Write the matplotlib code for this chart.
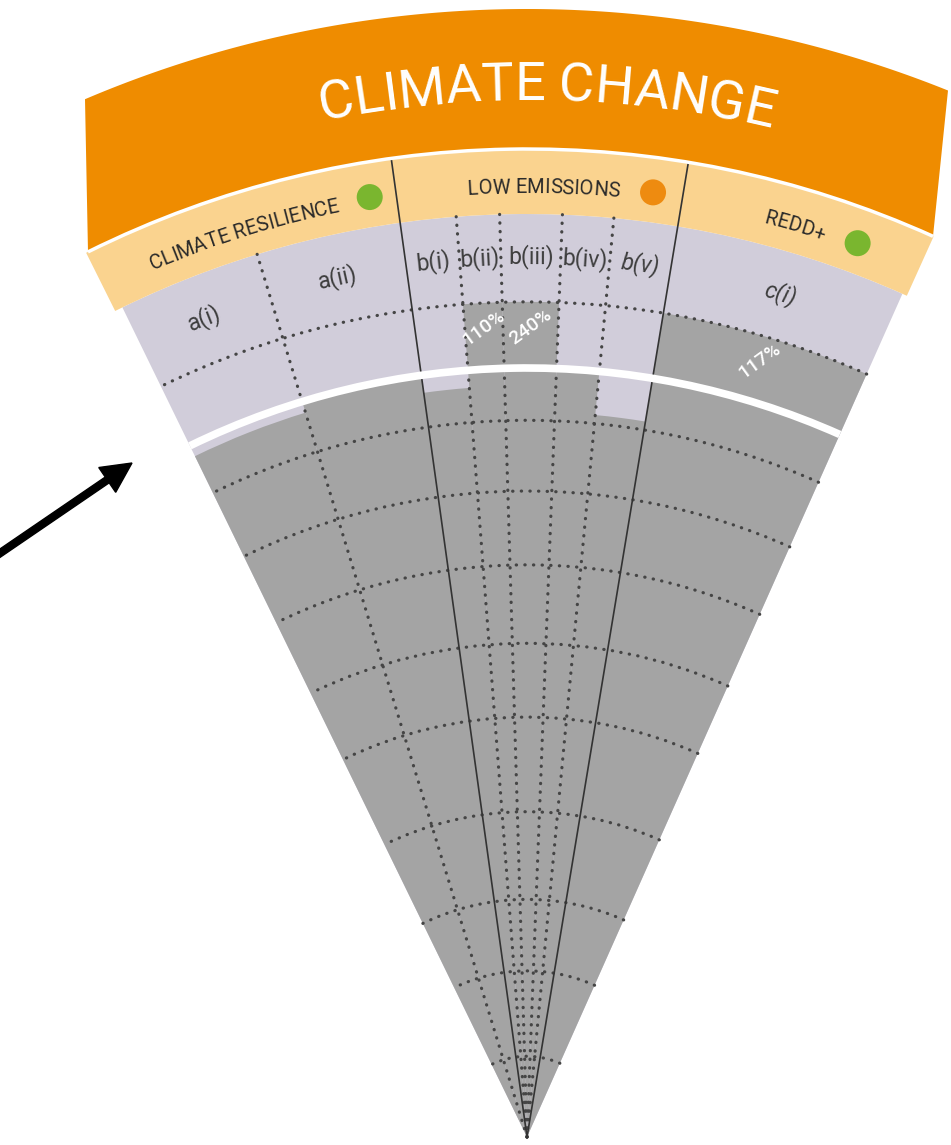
import numpy as np
import matplotlib
matplotlib.use("Agg")
import matplotlib.pyplot as plt
from matplotlib.patches import Wedge, Arc, Circle, Polygon
from matplotlib.font_manager import FontProperties
from matplotlib.textpath import TextToPath

# indicators of the climate change wedge
indicators = ['a(i)', 'a(ii)', 'b(i)', 'b(ii)', 'b(iii)', 'b(iv)', 'b(v)', 'c(i)']
# how far each indicator reaches, 1.0 = the boundary (white line)
reach = [0.985, 1.0, 0.977, 1.086, 1.086, 1.0, 0.943, 1.086]
overshoot_txt = ['', '', '', '110%', '240%', '', '', '117%']
italic = [False, False, False, False, False, False, True, True]

groups = ['CLIMATE RESILIENCE', 'LOW EMISSIONS', 'REDD+']
group_dot = ['#7ab62f', '#ee8b10', '#7ab62f']

# column borders in degrees (clockwise from straight up)
col_edges = [-26.0, -17.0, -7.9, -4.4, -1.7, 2.2, 5.4, 9.4, 24.0]
group_cols = [(0, 2), (2, 7), (7, 8)]
rings = [0.105, 0.216, 0.309, 0.423, 0.546, 0.642, 0.744, 0.840, 0.932, 1.086]

# geometry (pixels)
CX, CY = 527, 8          # tip of the wedge
R1 = 769                 # boundary radius
R_HEAD = 923
R_BAND = 988
R_TOP = 1128

ORANGE = '#ef8c00'
HEAD = '#fad38f'
LILAC = '#d1cdda'
GRAY = '#a4a4a4'
DOT = '#454545'

fig = plt.figure(figsize=(9.51, 11.45), dpi=100)
ax = fig.add_axes([0, 0, 1, 1])
ax.set_xlim(0, 951)
ax.set_ylim(0, 1145)
ax.set_aspect('equal')
ax.axis('off')


def pxy(r, th):
    t = np.radians(th)
    return CX + r * np.sin(t), CY + r * np.cos(t)


def sector(r0, r1, t0, t1, color, z):
    # Wedge takes counter clockwise angles from +x
    ax.add_patch(Wedge((CX, CY), r1, 90 - t1, 90 - t0, width=r1 - r0,
                       facecolor=color, edgecolor='none', zorder=z))


t2p = TextToPath()


def tw(s, fp):
    return t2p.get_text_width_height_descent(s, fp, ismath=False)[0] * 100 / 72


def arc_text(s, r, thc, size, color, weight='normal'):
    fp = FontProperties(family='Roboto', size=size, weight=weight)
    total = tw(s, fp)
    for i, ch in enumerate(s):
        if ch == ' ':
            continue
        pos = tw(s[:i + 1], fp) - tw(ch, fp) / 2
        th = thc + np.degrees((pos - total / 2) / r)
        x, y = pxy(r, th)
        ax.text(x, y, ch, fontproperties=fp, color=color, rotation=-th,
                ha='center', va='baseline', rotation_mode='anchor', zorder=9)


left, right = col_edges[0], col_edges[-1]

# background of the wedge and header band
sector(0, R_HEAD, left, right, LILAC, 1)
sector(R_HEAD, R_BAND, left - 0.5, right + 0.3, HEAD, 1)

# indicator bars
for i, v in enumerate(reach):
    sector(0, v * R1, col_edges[i], col_edges[i + 1], GRAY, 2)

# dotted rings
for rr in rings:
    ax.add_patch(Arc((CX, CY), 2 * rr * R1, 2 * rr * R1, theta1=90 - right, theta2=90 - left,
                     color=DOT, lw=2.3, linestyle=(0, (0.1, 2.6)), capstyle='round', zorder=3))

# dotted and solid dividers
solid = [col_edges[a] for a, b in group_cols[1:]]
for e in col_edges[1:-1]:
    if e in solid:
        xs, ys = pxy(np.array([0, R_BAND]), e)
        ax.plot(xs, ys, color='#333333', lw=1.2, zorder=4)
    else:
        xs, ys = pxy(np.array([0, R_HEAD]), e)
        ax.plot(xs, ys, color=DOT, lw=2.3, linestyle=(0, (0.1, 2.6)),
                dash_capstyle='round', zorder=3)

# white boundary line
ax.add_patch(Arc((CX, CY), 2 * R1, 2 * R1, theta1=90 - right, theta2=90 - left,
                 color='white', lw=5.5, zorder=5))

# orange title band with straight sides
xl, xr = 85, 948
xl_in, xr_in = 88, 933
to = np.linspace(np.arcsin((xl - CX) / R_TOP), np.arcsin((xr - CX) / R_TOP), 120)
ti = np.linspace(np.arcsin((xr_in - CX) / R_BAND), np.arcsin((xl_in - CX) / R_BAND), 120)
band = np.vstack([np.column_stack([CX + R_TOP * np.sin(to), CY + R_TOP * np.cos(to)]),
                  np.column_stack([CX + R_BAND * np.sin(ti), CY + R_BAND * np.cos(ti)])])
ax.add_patch(Polygon(band, closed=True, facecolor=ORANGE, edgecolor='none', zorder=6))
ax.add_patch(Arc((CX, CY), 2 * R_BAND, 2 * R_BAND,
                 theta1=90 - np.degrees(ti[0]), theta2=90 - np.degrees(ti[-1]),
                 color='white', lw=2.5, zorder=7))

arc_text('CLIMATE CHANGE', 1037, 1.1, 39, 'white')

# group headers with coloured dots
head_th = [-17.4, 1.0, 16.4]
dot_th = [-9.5, 7.6, 20.3]
for g, name in enumerate(groups):
    arc_text(name, 944, head_th[g], 14.5, '#2a2a2a')
    ax.add_patch(Circle(pxy(953, dot_th[g]), 13, facecolor=group_dot[g],
                        edgecolor='none', zorder=8))

# indicator labels and overshoot values
for i, name in enumerate(indicators):
    th = (col_edges[i] + col_edges[i + 1]) / 2
    ax.text(*pxy(880, th), name, family='Roboto', size=16.5, color='#3d3d3d',
            style='italic' if italic[i] else 'normal', rotation=-th,
            ha='center', va='center', rotation_mode='anchor', zorder=9)
    if overshoot_txt[i]:
        ax.text(*pxy(810, th), overshoot_txt[i], family='Roboto', size=14, color='white',
                weight='medium', rotation=36, ha='center', va='center',
                rotation_mode='anchor', zorder=9)

# pointer arrow
ax.arrow(-10, 1145 - 560, 142, 97, width=7, head_width=30, head_length=30,
         length_includes_head=True, color='black', zorder=9)

fig.savefig('out.png', dpi=100)
